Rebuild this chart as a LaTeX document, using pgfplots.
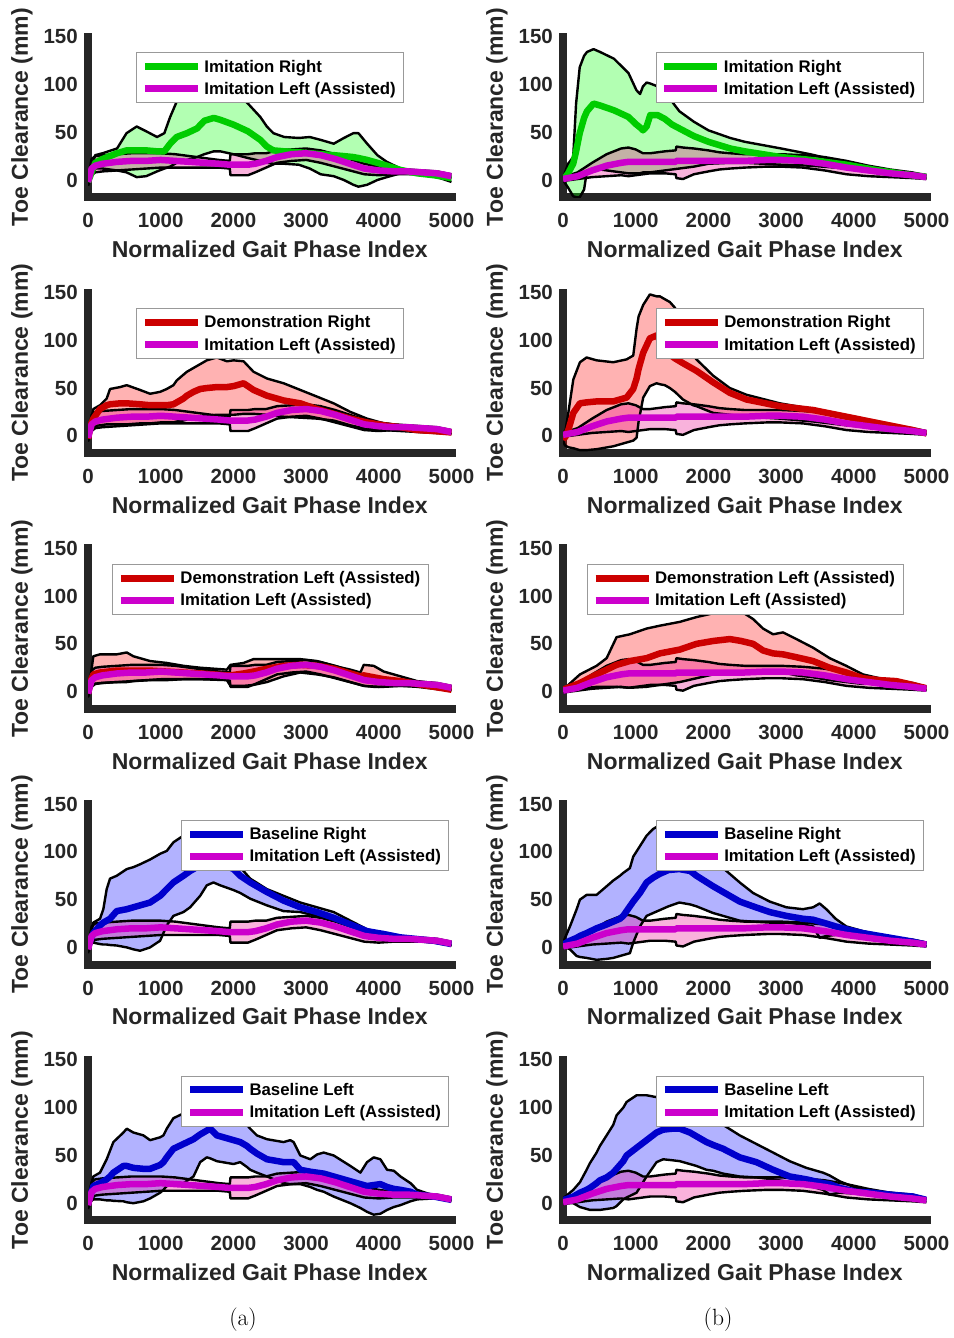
\documentclass[border=0pt]{standalone}
\usepackage{fontspec}
\usepackage{pgfplots}
\pgfplotsset{compat=1.18}
\usepackage{pgfplotstable}
\usepgfplotslibrary{fillbetween}
\newfontfamily\arialb{Liberation Sans}
\newcommand\tickf{\arialb\bfseries\fontsize{20.5}{24}\selectfont}
\newcommand\labf{\arialb\bfseries\fontsize{23}{27}\selectfont}
\newcommand\legf{\arialb\bfseries\fontsize{16.8}{20}\selectfont}
\definecolor{cG}{RGB}{0,204,0}
\definecolor{cR}{RGB}{204,0,0}
\definecolor{cB}{RGB}{0,0,204}
\definecolor{cM}{RGB}{204,0,204}
\definecolor{axc}{RGB}{38,38,38}

% Imitation Left (Assisted), column (a)
\pgfplotstableread{
x lo m hi
0 -6 -2 2
50 5 12 22
100 8 15 25
200 9 17 26
400 10 19 27
600 11 20 28
800 12 20 28
1000 13 21 28
1200 13 20 27
1400 13 19 25
1600 13 18 23
1800 13 17 21
1950 12 16 20
1960 5 16 27
2200 5 16 27
2300 8 17 28
2450 13 20 28
2600 18 24 31
2800 20 27 32
3000 21 28 33
3200 18 26 31
3400 14 22 27
3600 10 17 22
3800 6 12 17
4000 5 10 14
4200 6 9 12
4400 6 9 11
4600 6 8 10
4800 5 7 9
5000 2 4 6
}\aM
% Imitation Left (Assisted), column (b)
\pgfplotstableread{
x lo m hi
0 -1 1 3
200 1 4 8
400 3 10 18
600 4 15 27
800 5 18 33
900 4 19 34
1000 5 19 32
1100 6 19 28
1200 7 19 28
1400 7 19 30
1550 6 19 31
1560 2 20 35
1650 1 20 34
1800 6 20 33
2000 9 20 31
2150 11 20 29
2300 12 20 28
2500 13 20 27
2800 14 21 27
3000 14 21 27
3300 13 20 26
3600 10 17 24
3900 6 13 20
4200 4 10 15
4500 3 7 11
4800 2 5 8
5000 1 3 5
}\bM
% Imitation Right (a)
\pgfplotstableread{
x lo m hi
0 -5 -2 2
100 12 18 26
200 12 22 28
400 10 28 33
530 8 31 49
670 3 31 56
800 4 31 51
950 9 30 45
1050 12 30 49
1130 14 38 66
1220 18 45 82
1360 21 49 90
1500 24 54 96
1600 27 62 100
1730 30 65 101
1820 30 63 100
2000 27 58 95
2200 23 51 80
2370 20 42 66
2460 18 35 56
2550 17 31 49
2700 17 30 45
2900 16 29 44
3050 12 28 45
3200 6 27 42
3380 4 26 38
3520 0 25 44
3650 -5 24 49
3720 -7 23 49
3840 -5 21 38
3980 0 18 26
4110 3 15 19
4300 7 10.5 12
4530 6 7 7.5
4760 4 5 6
5000 -2 2 3.5
}\aG
% Imitation Right (b)
\pgfplotstableread{
x lo m hi
0 0 0 2
70 -8 7 17
140 -17 17 24
180 -18 30 80
230 -18 49 118
290 -10 65 130
330 10 72 134
420 12 80 137
510 11 78 134
700 9 73 127
900 7 66 112
1010 7 58 94
1060 7 55 90
1100 8 52 98
1150 8 56 102
1200 8 68 101
1300 9 68 98
1400 10 64 87
1500 11 58 82
1600 12 54 72
1800 14 46 61
2000 17 40 52
2300 18 33 44
2500 18 30 40
3000 16 24 33
3400 15 21 27
3900 12 16 18
4300 8 10.5 11
4800 4 5 6
5000 2 3.5 4
}\bG
% Demonstration Right (a)
\pgfplotstableread{
x lo m hi
0 -5 -3 2
40 6 12 15
73 10 18 28
165 11 28 32
257 12 32 39
303 12 33 49
441 12 34 51
533 12 34 53
716 13 33 48
854 13 32 44
992 14 32 46
1083 14 32 49
1175 14 33 53
1221 15 35 58
1313 16 39 64
1360 17 42 67
1451 18 46 71
1543 20 49 75
1634 21 50 79
1772 22 51 82
1910 22 51 78
2002 22 52 79
2140 23 55 78
2277 23 48 67
2461 22 42 60
2690 20 37 55
2920 19 34 48
3150 18 28 41
3379 16 23 34
3609 11 18 25
3838 7 14 18
4068 6 11 13
4298 5 9 11
4527 4 6 9
4757 3 5 8
5000 2 3.5 5
}\aRR
% Demonstration Right (b)
\pgfplotstableread{
x lo m hi
0 -5 0 5
27 -10 -2 2
73 -12 6 24
142 -13 24 59
233 -15 34 77
325 -15 35 82
462 -14 36 79
691 -11 36 77
875 -7 40 80
966 -5 49 84
1012 -2 60 112
1040 15 70 125
1103 40 87 137
1195 52 102 148
1287 55 105 146
1332 54 100 146
1400 53 92 143
1470 50 85 140
1540 46 81 134
1650 38 76 110
1790 32 70 84
1836 31 68 80
2065 24 56 63
2294 22 45 50
2523 20 38 43
2981 18 31 34
3439 15 27 28
3896 11 20 21
4354 8 13 14
4812 4 6 7
5000 2 2.5 4
}\bRR
% Demonstration Left (Assisted) (a)
\pgfplotstableread{
x lo m hi
0 -5 -2 5
40 5 12 18
73 8 18 37
165 9 20 39
395 10 22 39
533 10 22 41
624 11 22 37
854 12 22 32
1083 12 21 30
1313 13 20 27
1543 13 19 25
1910 12 17 23
1960 6 17 28
2140 6 19 30
2277 7 21 34
2461 10 24 34
2690 16 27 34
2920 20 28 34
3150 18 27 32
3380 15 24 27
3609 10 19 23
3747 7 16 20
3793 6 17 28
3930 5 15 27
4068 5 13 21
4298 6 11 16
4527 5 8 11
4757 3 5 9
5000 1 2 5
}\aRL
% Demonstration Left (Assisted) (b)
\pgfplotstableread{
x lo m hi
0 0 2 2
233 3 9 18
462 5 18 27
600 5 23 35
737 5 28 57
920 4 32 60
1150 5 35 66
1332 7 40 69
1607 10 44 73
1836 14 50 78
2065 18 53 82
2294 20 55 84
2450 21 53 84
2614 22 50 76
2752 22 43 66
2890 21 40 60
3027 20 39 62
3210 17 36 55
3439 15 32 46
3668 12 25 35
3896 10 20 27
4125 8 14 18
4354 9 12 14
4583 7 11 12
4812 4 7 9
5000 2 3.5 5
}\bRL
% Baseline Right (a)
\pgfplotstableread{
x lo m hi
0 -2 0 5
40 5 9 12
73 5 15 26
165 3.5 23 30
211 3 26 40
257 3 28 61
303 2.5 30 72
395 2 38 75
533 0 40 82
624 -2 42 84
716 -3.5 44 87
854 0 47 92
992 7 54 98
1083 23 61 101
1175 33 68 110
1313 37 75 117
1405 42 80 121
1543 54 86 124
1634 65 89 123
1726 68 90 120
1818 65 88 112
2002 60 82 92
2094 57 75 84
2231 51 68 72
2461 44 58 61
2690 38 49 54
2920 37 42 47
3150 33 37 42
3380 30 31 37
3609 23 24 28
3838 16 17 19
4068 12 14 14.5
4298 9 10.5 11
4757 5 7 7.5
5000 2 3.5 5
}\aBR
% Baseline Right (b)
\pgfplotstableread{
x lo m hi
0 1 3 5
96 -2 7 22
188 -9 10 40
233 -10 12 50
325 -11 15 55
462 -13 20 55
600 -12 24 64
691 -11 27 70
783 -9 30 75
829 -8 33 78
920 -6 43 83
966 5 48 95
1058 22 57 106
1150 33 68 117
1240 36 73 124
1330 39 77 128
1450 43 81 130
1600 47 82 128
1750 45 80 120
1836 43 75 108
2065 36 64 92
2248 32 56 80
2431 28 48 68
2614 27 43 57
2843 26 37 48
3072 26 33 42
3300 24 30 40
3440 22 29 42
3530 10 27 46
3622 12 25 40
3750 13 22 30
3896 15 19 22
4125 12 15 17
4354 10 12 13
4583 7 9 10
4812 5 6 8
5000 1 3 5
}\bBR
% Baseline Left (a)
\pgfplotstableread{
x lo m hi
0 -3 0 5
40 2 10 18
73 4 18 28
165 4 21 32
257 3 25 46
303 3 28 55
349 2.5 32 64
487 2 39 74
533 1 39 78
624 0 37 74
762 2 36 71
854 5 36 66
992 11 40 69
1038 14 43 71
1083 18 48 78
1175 19 57 89
1313 21 62 94
1451 28 67 98
1543 43 72 100
1634 48 76 101
1680 47 78 100
1772 44 71 98
2002 41 66 93
2094 43 64 90
2185 38 60 82
2231 35 57 78
2323 32 52 71
2461 28 46 67
2690 21 43 64
2782 20 43 66
2828 20 43 64
2920 20 35 50
3058 17 33 46
3150 14 32 51
3242 12 31 53
3379 7 28 50
3609 0 23 39
3747 -5 20 32
3838 -9 18 43
3930 -12 19 48
4022 -11 20 46
4114 -7 17 35
4206 -4 15 34
4298 -2 14 28
4436 2 12 21
4527 4 9 14
4757 5 7 8
5000 3.5 3.5 5
}\aBL
% Baseline Left (b)
\pgfplotstableread{
x lo m hi
0 2 3 5
142 0 7 14
233 -4 11 22
325 -6 14 35
371 -7 16 42
462 -7 21 53
508 -7 24 60
600 -6 27 71
691 -5 32 82
737 -3 36 92
829 4 44 100
875 6 50 106
1012 11 58 113
1150 28 66 113
1287 43 74 111
1378 46 77 109
1500 45 78 106
1607 44 78 103
1745 41 74 98
1836 39 70 94
1973 35 64 88
2065 34 61 86
2202 31 57 82
2431 28 48 71
2660 27 43 62
2890 25 35 53
3118 22 28 44
3347 19 25 37
3576 14 21 32
3668 9 20 29
3805 11 16 23
4034 10 12 16
4263 8 11 12
4500 6 9 11
4812 5 7 9
5000 3.5 3.5 5
}\bBL

\pgfplotsset{
  panel/.style={
    scale only axis, width=363.5pt, height=160.5pt, anchor=south west,
    xmin=0, xmax=5000, ymin=-18, ymax=150,
    axis x line*=bottom, axis y line*=left,
    axis line style={-, line width=8pt, axc, line cap=rect},
    xtick={0,1000,2000,3000,4000,5000},
    xticklabels={0,1000,2000,3000,4000,5000},
    ytick={0,50,100,150}, yticklabels={0,50,100,150},
    scaled x ticks=false, scaled y ticks=false,
    major tick length=0pt,
    tick label style={font=\tickf, text=axc},
    xticklabel style={inner sep=0pt, anchor=north, yshift=-16pt},
    yticklabel style={inner sep=0pt, anchor=east, xshift=-10pt},
    xlabel={Normalized Gait Phase Index}, ylabel={Toe Clearance (mm)},
    label style={font=\labf, text=axc},
    xlabel style={at={(axis description cs:0.5,-0.325)}, anchor=center},
    ylabel style={at={(axis description cs:-0.182,0.5)}, anchor=center},
    legend cell align=left,
    legend style={anchor=north west, draw=black!40, line width=0.8pt, fill=white,
      font=\legf, inner xsep=5pt, inner ysep=4pt, nodes={inner sep=3pt},
      row sep=2.5pt, column sep=0pt},
    legend image code/.code={\draw[##1, line width=7pt] (0pt,0pt) -- (53pt,0pt);},
  },
  outl/.style={black, line width=2.4pt, line join=round, mark=none, forget plot},
  hidd/.style={draw=none, mark=none, forget plot},
  meanl/.style={line width=6.5pt, line join=round, mark=none},
}

\newcommand{\panel}[8]{%
\begin{axis}[panel, at={(#1pt,#2pt)}, legend style={at={(axis description cs:#8,0.9016)}}]
\addplot[hidd, name path=au] table[x=x,y=hi]{#3};
\addplot[hidd, name path=al] table[x=x,y=lo]{#3};
\addplot[hidd, name path=bu] table[x=x,y=hi]{#7};
\addplot[hidd, name path=bl] table[x=x,y=lo]{#7};
\addplot[fill=#4, fill opacity=0.3, draw=none, forget plot] fill between[of=au and al];
\addplot[fill=magenta, fill opacity=0.3, draw=none, forget plot] fill between[of=bu and bl];
\addplot[outl] table[x=x,y=hi]{#3};
\addplot[outl] table[x=x,y=lo]{#3};
\addplot[outl] table[x=x,y=hi]{#7};
\addplot[outl] table[x=x,y=lo]{#7};
\addplot[meanl, #5] table[x=x,y=m]{#3};
\addplot[meanl, cM] table[x=x,y=m]{#7};
\legend{#6,Imitation Left (Assisted)}
\end{axis}}

\begin{document}
\begin{tikzpicture}
\panel{88}{-197.2}{\aG}{green}{cG}{Imitation Right}{\aM}{0.1322}
\panel{563}{-197.2}{\bG}{green}{cG}{Imitation Right}{\bM}{0.2547}
\panel{88}{-453.0}{\aRR}{red}{cR}{Demonstration Right}{\aM}{0.1322}
\panel{563}{-453.0}{\bRR}{red}{cR}{Demonstration Right}{\bM}{0.2555}
\panel{88}{-708.8}{\aRL}{red}{cR}{Demonstration Left (Assisted)}{\aM}{0.0661}
\panel{563}{-708.8}{\bRL}{red}{cR}{Demonstration Left (Assisted)}{\bM}{0.0651}
\panel{88}{-964.6}{\aBR}{blue}{cB}{Baseline Right}{\aM}{0.2562}
\panel{563}{-964.6}{\bBR}{blue}{cB}{Baseline Right}{\bM}{0.2555}
\panel{88}{-1220.4}{\aBL}{blue}{cB}{Baseline Left}{\aM}{0.2562}
\panel{563}{-1220.4}{\bBL}{blue}{cB}{Baseline Left}{\bM}{0.2555}
\node[font=\fontsize{23.5}{28}\selectfont] at (243pt,-1320pt) {(a)};
\node[font=\fontsize{23.5}{28}\selectfont] at (718pt,-1320pt) {(b)};
\path (0,0) rectangle (953pt,-1338pt);
\end{tikzpicture}
\end{document}
